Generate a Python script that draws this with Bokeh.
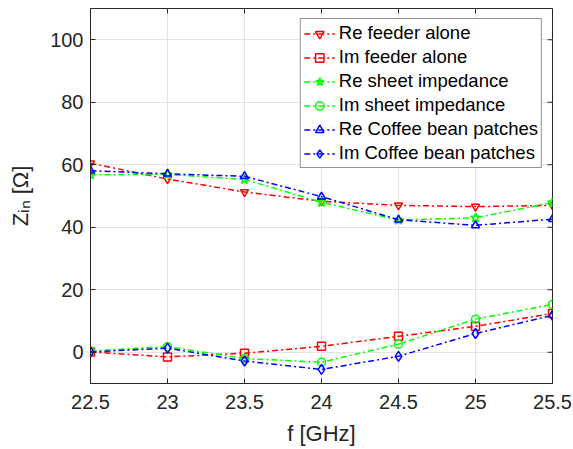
from bokeh.plotting import figure
from bokeh.models import Range1d, Legend, LegendItem, FixedTicker
from bokeh.embed import file_html
from bokeh.resources import INLINE

freq = [22.5, 23.0, 23.5, 24.0, 24.5, 25.0, 25.5]
re_feeder = [60.5, 55.4, 51.3, 48.3, 47.0, 46.6, 47.0]
im_feeder = [0.1, -1.5, -0.3, 1.9, 5.1, 8.3, 12.4]
re_sheet = [56.8, 56.9, 55.3, 48.0, 42.3, 43.0, 47.9]
im_sheet = [0.4, 1.8, -2.0, -3.2, 2.6, 10.6, 15.3]
re_coffee = [58.1, 57.1, 56.3, 49.8, 42.4, 40.6, 42.6]
im_coffee = [0.1, 1.3, -2.8, -5.5, -1.3, 6.0, 11.8]
x_ticks = [22.5, 23.0, 23.5, 24.0, 24.5, 25.0, 25.5]
x_tick_labels = ["22.5", "23", "23.5", "24", "24.5", "25", "25.5"]
y_ticks = [0, 20, 40, 60, 80, 100]

FONT = "Liberation Sans"
AX = "#262626"
XMIN, XMAX, YMIN, YMAX = 22.5, 25.5, -10, 110

p = figure(width=573, height=449, output_backend="svg", toolbar_location=None,
           x_range=Range1d(XMIN, XMAX), y_range=Range1d(YMIN, YMAX),
           min_border_left=90, min_border_right=21, min_border_top=8, min_border_bottom=66)
p.background_fill_color = "white"
p.outline_line_color = AX
p.outline_line_width = 1

for ax in (p.xaxis[0], p.yaxis[0]):
    ax.axis_line_color = AX
    ax.major_tick_line_color = AX
    ax.major_tick_in = 5
    ax.major_tick_out = 0
    ax.minor_tick_line_color = None
    ax.major_label_text_font = FONT
    ax.major_label_text_font_size = "20px"
    ax.major_label_text_color = AX
    ax.axis_label_text_font = FONT
    ax.axis_label_text_font_style = "normal"
    ax.axis_label_text_color = AX
    ax.axis_label_text_font_size = "22px"

p.xaxis.ticker = FixedTicker(ticks=x_ticks)
p.xaxis.major_label_overrides = {t: l for t, l in zip(x_ticks, x_tick_labels)}
p.xaxis.major_label_standoff = 11
p.xaxis.axis_label = "f [GHz]"
p.xaxis.axis_label_standoff = 9
p.yaxis.ticker = FixedTicker(ticks=y_ticks)
p.yaxis.major_label_standoff = 7
p.yaxis.axis_label = "Zᵢₙ [Ω]"
p.yaxis.axis_label_standoff = 14

# inward ticks on the right and top edges of the box
dx = 5 * (XMAX - XMIN) / 462
dy = 5 * (YMAX - YMIN) / 375
p.segment(x0=[XMAX] * len(y_ticks), y0=y_ticks, x1=[XMAX - dx] * len(y_ticks), y1=y_ticks,
          line_color=AX, line_width=1)
p.segment(x0=x_ticks, y0=[YMAX] * len(x_ticks), x1=x_ticks, y1=[YMAX - dy] * len(x_ticks),
          line_color=AX, line_width=1)

p.xgrid.ticker = FixedTicker(ticks=x_ticks)
p.ygrid.ticker = FixedTicker(ticks=y_ticks)
p.grid.grid_line_color = "#e3e3e3"
p.grid.grid_line_width = 1

series = [
    ("Re feeder alone", re_feeder, "red", "inverted_triangle"),
    ("Im feeder alone", im_feeder, "red", "square"),
    ("Re sheet impedance", re_sheet, "#00ff00", "star"),
    ("Im sheet impedance", im_sheet, "#00ff00", "circle"),
    ("Re Coffee bean patches", re_coffee, "blue", "triangle"),
    ("Im Coffee bean patches", im_coffee, "blue", "diamond"),
]
items = []
for name, ys, col, mk in series:
    r1 = p.line(freq, ys, line_color=col, line_width=1.5, line_dash="6 3 2 3")
    size = 10 if mk in ("diamond", "star") else 8
    r2 = p.scatter(freq, ys, marker=mk, size=size, line_color=col, fill_color=None, line_width=1.5)
    items.append(LegendItem(label=name, renderers=[r1, r2]))

legend = Legend(items=items, location="top_right")
legend.margin = 10
legend.padding = 3
legend.spacing = 2
legend.label_height = 21
legend.glyph_height = 21
legend.glyph_width = 31
legend.label_standoff = 4
legend.label_text_font = FONT
legend.label_text_font_size = "18.5px"
legend.label_text_color = "black"
legend.border_line_color = AX
legend.border_line_width = 1
legend.background_fill_color = "white"
legend.background_fill_alpha = 1
p.add_layout(legend)

open("out.html", "w").write(file_html(p, INLINE))
